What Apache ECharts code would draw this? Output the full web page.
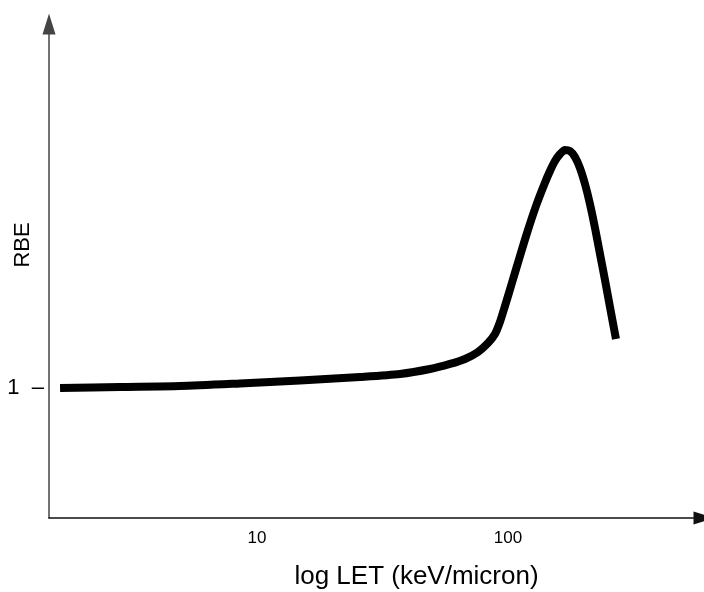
<!DOCTYPE html>
<html>
<head>
<meta charset="utf-8">
<script src="https://cdn.jsdelivr.net/npm/echarts@6/dist/echarts.min.js"></script>
<style>
  html, body { margin: 0; padding: 0; background: #fff; }
  #chart { width: 704px; height: 592px; }
</style>
</head>
<body>
<div id="chart"></div>
<script>
// LET in keV/micron (log axis) and relative biological effectiveness
const letValues = [1.641, 2.846, 4.934, 8.556, 14.84, 25.72, 37.12, 48.89, 58.74, 67.41, 75.94, 83.25,
  88.76, 92.93, 97.29, 103.7, 111.6, 120.1, 129.3, 139.2, 147.0, 153.9, 161.2, 168.7, 176.6, 184.9,
  193.6, 202.7, 212.2, 222.2, 232.6, 243.5, 254.9, 269.3];
const rbeValues = [1.000, 1.008, 1.015, 1.035, 1.058, 1.085, 1.108, 1.146, 1.185, 1.223, 1.277, 1.346,
  1.415, 1.508, 1.631, 1.808, 2.015, 2.215, 2.400, 2.562, 2.669, 2.746, 2.800, 2.831, 2.823, 2.777,
  2.692, 2.569, 2.415, 2.231, 2.031, 1.831, 1.623, 1.377];
const xTickLabels = [10, 100];
const yTickLabels = [1];

const FONT = '"Liberation Sans", Arial, sans-serif';

const chart = echarts.init(document.getElementById('chart'), null, { renderer: 'canvas' });

chart.setOption({
  animation: false,
  backgroundColor: '#ffffff',
  grid: { left: 49, right: 0, top: 24, bottom: 74, containLabel: false, outerBoundsMode: 'none' },
  xAxis: {
    type: 'log',
    logBase: 10,
    min: 1.483,
    max: 604,
    name: 'log LET (keV/micron)',
    nameLocation: 'middle',
    nameGap: 46,
    nameMoveOverlap: false,
    nameTextStyle: { fontFamily: FONT, fontSize: 26, color: '#000', padding: [0, 0, 0, 80] },
    axisLine: {
      show: true,
      lineStyle: { color: '#111', width: 1.5 },
      symbol: ['none', 'triangle'],
      symbolSize: [13, 21]
    },
    axisTick: { show: false },
    splitLine: { show: false },
    axisLabel: {
      fontFamily: FONT, fontSize: 17, color: '#000', margin: 12,
      showMinLabel: false, showMaxLabel: false,
      formatter: function (v) {
        const r = Math.round(v);
        return (Math.abs(v - r) < 1e-6 && xTickLabels.indexOf(r) >= 0) ? String(r) : '';
      }
    }
  },
  yAxis: {
    type: 'value',
    min: 0,
    max: 3.8,
    interval: 1,
    name: 'RBE',
    nameLocation: 'middle',
    nameRotate: 90,
    nameGap: 15,
    nameMoveOverlap: false,
    nameTextStyle: { fontFamily: FONT, fontSize: 22, color: '#000', padding: [0, 0, 0, 52] },
    axisLine: {
      show: true,
      lineStyle: { color: '#444', width: 1.5 },
      symbol: ['none', 'triangle'],
      symbolSize: [13, 21]
    },
    axisTick: { show: false },
    splitLine: { show: false },
    axisLabel: {
      fontFamily: FONT, fontSize: 22, color: '#000', margin: 5,
      formatter: function (v) {
        return yTickLabels.indexOf(v) >= 0 ? v + '  \u2013' : '';
      }
    }
  },
  series: [{
    type: 'line',
    data: letValues.map((x, i) => [x, rbeValues[i]]),
    smooth: 0.25,
    showSymbol: false,
    lineStyle: { color: '#000', width: 8, cap: 'butt', join: 'round' }
  }]
});
</script>
</body>
</html>
